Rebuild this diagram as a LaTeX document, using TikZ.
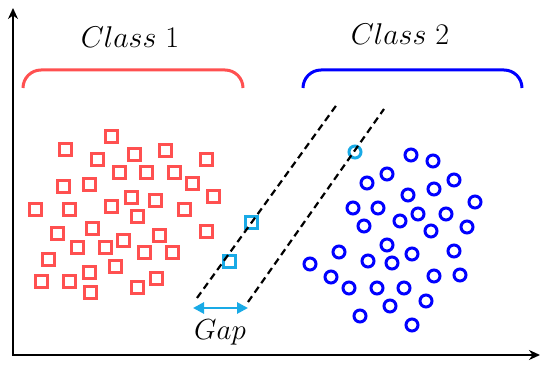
\RequirePackage{fix-cm}
\documentclass[tikz,border=0pt]{standalone}
\usepackage{amsmath}
\usetikzlibrary{arrows.meta}
\definecolor{clsred}{RGB}{255,80,80}
\definecolor{clsblue}{RGB}{0,0,255}
\definecolor{supcyan}{RGB}{25,170,230}
\begin{document}
\begin{tikzpicture}[x=1pt,y=-1pt,
  sqpt/.style={draw=clsred,line width=3pt,minimum size=12pt,inner sep=0pt},
  cipt/.style={circle,draw=clsblue,line width=3pt,minimum size=12pt,inner sep=0pt},
  brace/.style={line width=3pt,rounded corners=18pt},
  axisline/.style={line width=2.4pt,-{Stealth[length=11pt,width=10pt]}},
  margin/.style={line width=2.2pt,dash pattern=on 7pt off 4.5pt},
  lbl/.style={anchor=base,inner sep=0pt,font=\fontsize{30}{36}\selectfont}]
\useasboundingbox (0,0) rectangle (550,377);
% axes
\coordinate (o) at (13,355);
\coordinate (ytip) at (13,8);
\coordinate (xtip) at (540,355);
\draw[axisline] ([yshift=1.2pt]o) -- (ytip);
\draw[axisline] ([xshift=-1.2pt]o) -- (xtip);
% class labels and braces
\node[lbl] (cls1) at (130,48) {$Class\ 1$};
\node[lbl] (cls2) at (400,45) {$Class\ 2$};
\draw[brace,clsred] (23,88) -- (23,70) -- (243,70) -- (243,88);
\draw[brace,clsblue] (303,88) -- (303,70) -- (522,70) -- (522,88);
% class 1 samples
\foreach \x/\y [count=\i] in {111/137,65/150,97/160,134/155,165/151,206/160,119/173,146/173,
  174/173,192/184,63/187,89/185,35/210,69/210,111/207,131/198,155/201,184/210,213/197,137/217,
  57/234,92/229,77/248,105/248,123/241,159/236,206/232,48/260,144/253,172/253,115/267,41/282,
  69/282,89/273,90/293,137/288,156/279} {
  \node[sqpt] (sq\i) at (\x,\y) {};
}
% class 2 samples
\foreach \x/\y [count=\i] in {411/155,433/161,387/174,367/183,454/180,408/195,434/189,353/208,
  378/208,475/202,364/226,400/221,418/214,446/214,431/231,467/227,387/245,339/252,454/251,
  368/261,392/263,412/254,310/264,331/277,434/276,460/275,349/288,377/288,404/288,426/301,
  390/306,360/316,412/325} {
  \node[cipt] (ci\i) at (\x,\y) {};
}
% support vectors
\node[sqpt,draw=supcyan] (sv1) at (229,262) {};
\node[sqpt,draw=supcyan] (sv2) at (251,223) {};
\node[cipt,draw=supcyan] (sv3) at (355,152) {};
% margins
\coordinate (m1a) at (197,298);
\coordinate (m1b) at (338,103);
\coordinate (m2a) at (248,302);
\coordinate (m2b) at (384,109);
\draw[margin] (m1a) -- (m1b);
\draw[margin] (m2a) -- (m2b);
% gap
\coordinate (gapL) at (193,308);
\coordinate (gapR) at (248,308);
\draw[supcyan,line width=2.8pt,{Triangle[length=11pt,width=11pt]}-{Triangle[length=11pt,width=11pt]}] (gapL) -- (gapR);
\node[lbl,font=\fontsize{29}{34}\selectfont] (gap) at (220,340) {$Gap$};
\end{tikzpicture}
\end{document}
